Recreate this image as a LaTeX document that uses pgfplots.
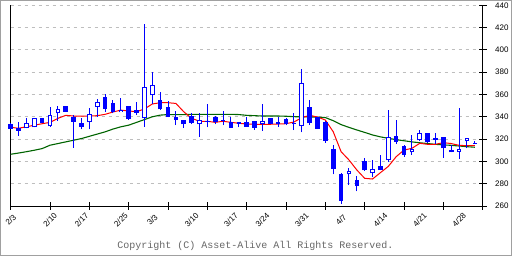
\documentclass[border=0pt]{standalone}
\usepackage{pgfplots}
\usepackage{pgfplotstable}
\pgfplotsset{compat=1.18}
\usepackage{fontspec}
\setmainfont{Liberation Sans}
\setmonofont{Liberation Mono}
\definecolor{cblue}{RGB}{0,0,255}
\definecolor{mared}{RGB}{255,0,0}
\definecolor{magreen}{RGB}{0,100,0}
\definecolor{gridgray}{RGB}{190,190,190}
\definecolor{framegray}{RGB}{160,160,160}
% i: day index, L: low, bl/bh: body low/high, H: high, t: 1 = rising (hollow), 0 = falling (filled)
\pgfplotstableread{
i L bl bh H t
0 329 329.2 333.4 334 0
1 323 327.5 330.2 335.3 0
2 329.7 329.7 334.2 339 1
3 330.5 330.6 338.6 339 1
4 334.5 334.7 338.6 339 0
5 331 331.5 342 348.5 1
6 336.5 343.1 346.7 349.7 1
7 344.5 344.6 349.4 350 0
8 312.3 335.6 340 342 0
9 328.8 331.1 334.4 338.6 0
10 328.8 335 342.2 348.2 1
11 340 349 353 355.7 1
12 344.6 347.3 358 360.4 0
13 343 344.6 352 355 0
14 344 344 346.4 356.6 1
15 337.5 337.7 349.4 349.6 0
16 341.6 343.4 345.8 353 0
17 331 338.6 366.5 423 1
18 351.5 359.3 368.2 380.4 1
19 346.5 346.7 355 362.5 0
20 339.5 339.6 348.8 354 0
21 332.6 337.4 339.6 345 0
22 330.2 333.3 337.1 337.5 0
23 333.5 334.7 341 343 0
24 322.2 333.3 337.1 343.8 1
25 330.5 335.5 336.5 351.2 1
26 333.3 335 340 341 0
27 332.6 336 337 345.5 0
28 330.2 330.2 335 339.6 0
29 330.6 333.8 335 335.5 0
30 331 331.1 335 339.6 0
31 328.4 330.2 336 336.5 0
32 327.5 333.5 336.5 351.5 1
33 333.5 333.8 338.9 339.2 0
34 331.1 333.3 335 339.6 1
35 332.5 333.3 338 338.5 0
36 328 333.5 334.5 343.5 1
37 326 331.5 370 382.6 1
38 332.6 334.2 348.5 355 0
39 329 329.3 339.6 340 0
40 316.8 318.6 335.6 336 0
41 288.4 293.5 310.9 314.7 0
42 261.8 264.8 288.7 289.3 0
43 279.2 288.4 291 294.4 1
44 273.2 278.2 283.3 286.9 0
45 291.5 291.9 300.6 303.3 0
46 285.7 289.3 293.1 301.5 1
47 292 292.6 296.1 306.1 0
48 299.9 300.9 321.5 346 1
49 315.6 317.7 322.8 337.1 0
50 304 305.8 313.8 314.5 0
51 305.8 308.1 311.1 323.4 1
52 318.5 318.9 325.2 328.2 1
53 316.5 317.1 325.2 325.5 0
54 315.3 319.6 320.6 325.2 1
55 303.3 311.7 321.6 322 0
56 308 308.2 310 314.7 1
57 302.2 308.7 311.5 347.9 1
58 311.7 318 320.7 321 1
59 315.9 315.6 316.6 318.2 1
}\candles
\pgfplotsset{candle/.style={only marks, mark size=0pt, mark options={draw opacity=0, fill opacity=0}}}
\begin{document}
\begin{tikzpicture}
\useasboundingbox (0pt,0pt) rectangle (512pt,256pt);
\draw[framegray, line width=1.2pt] (0.6pt,0.6pt) rectangle (511.4pt,255.4pt);
\begin{axis}[at={(10.7pt,50pt)}, anchor=south west, width=472pt, height=200.7pt, scale only axis,
  xmin=0, xmax=60, ymin=260, ymax=440, clip=false,
  axis x line*=bottom, axis y line*=right, x axis line style={-}, y axis line style={-},
  tick align=center, major tick length=8pt, tick style={black, line width=0.8pt},
  axis line style={black, line width=0.8pt},
  xtick={0,5,...,60}, xticklabels={},
  extra x ticks={0,5,9,14,18,23,28,32,37,42,47,52,57},
  extra x tick labels={2/3,2/10,2/17,2/25,3/3,3/10,3/17,3/24,3/31,4/7,4/14,4/21,4/28},
  extra x tick style={major tick length=0pt, tick label style={anchor=center, yshift=-14pt, rotate=45}},
  ytick={260,280,...,440},
  yticklabel style={anchor=west, xshift=5pt},
  tick label style={font=\fontsize{8}{9}\selectfont},
  /pgf/number format/assume math mode=true,
  ymajorgrids, major grid style={gridgray, dash pattern=on 3pt off 4pt, line width=0.8pt},
]
\draw[black, line width=0.8pt] (rel axis cs:0,0) -- (rel axis cs:0,1);
\addplot[magreen, line width=1.1pt, mark=none] coordinates {
(0,306.4)(1,307.5)(2,308.7)(3,310)(4,311.5)(5,314.5)(6,316)(7,317.5)(8,319)(9,320.5)
(10,322.5)(11,324.5)(12,326.5)(13,329)(14,331)(15,332.5)(16,335)(17,337.5)(18,340)(19,341.5)
(20,342)(21,342)(22,342)(23,342.2)(24,342.2)(25,342.2)(26,342.2)(27,342.2)(28,342.2)(29,342)
(30,341.3)(31,341)(32,340.7)(33,340.7)(34,340.7)(35,340.5)(36,340.1)(37,340)(38,339.9)(39,339.7)
(40,339.3)(41,336.5)(42,333)(43,330.5)(44,328.2)(45,326)(46,323.7)(47,322)(48,320.7)(49,319.5)
(50,318.5)(51,317.5)(52,316.7)(53,316)(54,315.3)(55,314.8)(56,314.4)(57,313.8)(58,313.2)(59,312.7)};
\addplot[mared, line width=1pt, mark=none] coordinates {
(0,330.6)(1,329.7)(2,331.1)(3,332.4)(4,333.8)(5,335)(6,338.6)(7,341.3)(8,340.7)(9,340.7)
(10,340.7)(11,341)(12,342.2)(13,344.3)(14,346)(15,345.2)(16,344.6)(17,347)(18,351.5)(19,352.6)
(20,352.6)(21,352)(22,344.5)(23,338.6)(24,336)(25,336)(26,335)(27,336)(28,335)(29,334.2)
(30,333.5)(31,333.3)(32,333.3)(33,333.3)(34,333.5)(35,333.8)(36,335.3)(37,339.2)(38,341.3)(39,339.8)
(40,337.1)(41,326.6)(42,308.7)(43,301.3)(44,292.3)(45,284.8)(46,284.2)(47,289.9)(48,295.5)(49,304.2)
(50,310.2)(51,311.7)(52,316.2)(53,315.3)(54,315.3)(55,316.8)(56,316)(57,314.4)(58,314.1)(59,314.1)};
% wicks
\addplot[candle, error bars/.cd, y dir=plus, y explicit, error mark=none,
  error bar style={draw=cblue, line width=1pt}]
  table[x=i, y=L, y error expr=\thisrow{H}-\thisrow{L}] {\candles};
% bodies (blue)
\addplot[candle, error bars/.cd, y dir=plus, y explicit, error mark=none,
  error bar style={draw=cblue, line width=4.6pt}]
  table[x=i, y=bl, y error expr=\thisrow{bh}-\thisrow{bl}] {\candles};
% hollow interiors of rising candles
\addplot[candle, error bars/.cd, y dir=plus, y explicit, error mark=none,
  error bar style={draw=white, line width=2.6pt}]
  table[x=i, y expr=\thisrow{bl}+0.9, y error expr={max(\thisrow{bh}-\thisrow{bl}-1.8,0)*\thisrow{t}}] {\candles};
\end{axis}
\node[font=\ttfamily\fontsize{10}{12}\selectfont, text=black!60] at (255.5pt,10.5pt) {Copyright (C) Asset-Alive All Rights Reserved.};
\end{tikzpicture}
\end{document}
